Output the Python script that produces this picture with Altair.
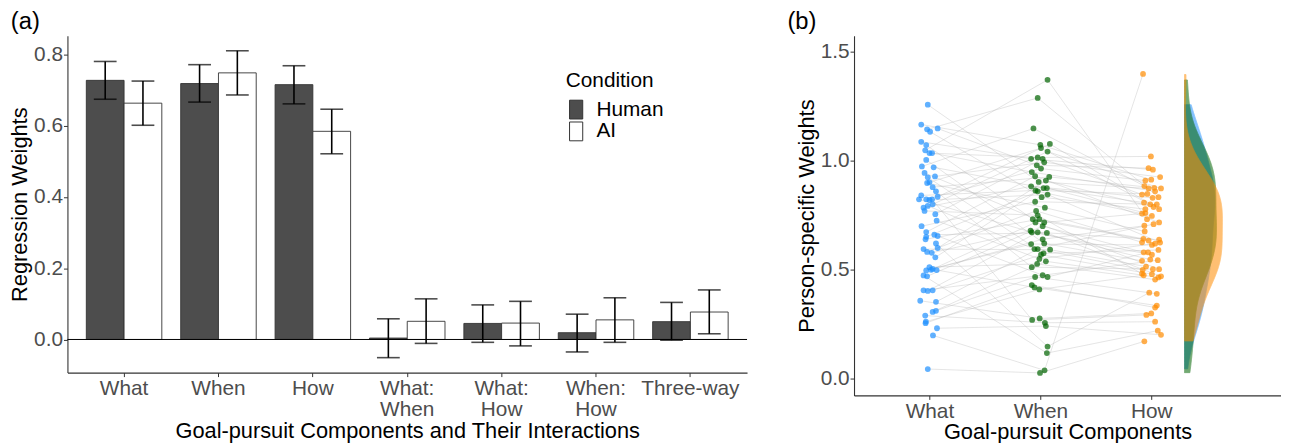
import altair as alt
import pandas as pd

# ---------------- Panel (a): regression weights ----------------
terms = ["What", "When", "How", "What: When", "What: How", "When: How", "Three-way"]
conditions = ["Human", "AI"]
human_mean = [0.727, 0.718, 0.715, 0.004, 0.045, 0.019, 0.050]
human_lo = [0.674, 0.666, 0.661, -0.051, -0.008, -0.035, -0.002]
human_hi = [0.780, 0.771, 0.768, 0.058, 0.097, 0.071, 0.104]
ai_mean = [0.663, 0.748, 0.584, 0.051, 0.046, 0.055, 0.077]
ai_lo = [0.601, 0.686, 0.521, -0.011, -0.018, -0.008, 0.016]
ai_hi = [0.725, 0.810, 0.646, 0.114, 0.107, 0.117, 0.139]

# ---------------- Panel (b): person-specific weights ----------------
components = ["What", "When", "How"]
comp_colors = ["#1E90FF", "#006400", "#FF8C00"]

what_vals = [1.257, 1.166, 1.148, 1.144, 1.133, 1.087, 1.072, 1.048, 1.035, 1.035,
             1.004, 0.974, 0.970, 0.944, 0.928, 0.924, 0.901, 0.898, 0.879, 0.860,
             0.841, 0.835, 0.823, 0.823, 0.823, 0.820, 0.800, 0.793, 0.785, 0.770,
             0.755, 0.725, 0.700, 0.673, 0.661, 0.655, 0.651, 0.640, 0.621, 0.600,
             0.595, 0.582, 0.578, 0.557, 0.512, 0.504, 0.500, 0.499, 0.497, 0.474,
             0.470, 0.406, 0.406, 0.403, 0.358, 0.353, 0.312, 0.307, 0.290, 0.262,
             0.255, 0.232, 0.199, 0.045]
what_jit = [-0.015, -0.074, 0.074, -0.021, 0.006, -0.074, -0.029, -0.038, 0.0, 0.024,
            -0.029, -0.068, 0.038, -0.044, 0.050, -0.015, 0.0, -0.021, 0.029, 0.059,
            -0.074, 0.074, -0.094, -0.029, 0.024, 0.0, 0.029, -0.015, -0.053, -0.044,
            0.053, 0.065, -0.071, -0.029, 0.044, 0.074, -0.029, -0.035, 0.059, 0.074,
            -0.053, -0.021, 0.021, 0.053, 0.0, 0.029, 0.015, 0.065, -0.029, -0.053,
            -0.021, 0.029, -0.053, -0.015, -0.083, 0.059, 0.059, 0.029, -0.038, -0.032,
            -0.035, 0.068, 0.032, -0.015]

when_vals = [1.371, 1.288, 1.148, 1.077, 1.073, 1.058, 1.042, 1.015, 1.009, 1.009,
             0.993, 0.979, 0.964, 0.948, 0.929, 0.926, 0.909, 0.903, 0.883, 0.875,
             0.875, 0.864, 0.860, 0.845, 0.833, 0.812, 0.785, 0.770, 0.750, 0.732,
             0.732, 0.717, 0.717, 0.700, 0.679, 0.672, 0.672, 0.669, 0.640, 0.621,
             0.618, 0.595, 0.595, 0.592, 0.575, 0.569, 0.550, 0.539, 0.527, 0.512,
             0.475, 0.467, 0.467, 0.430, 0.419, 0.410, 0.277, 0.270, 0.257, 0.242,
             0.148, 0.118, 0.039, 0.027]
when_jit = [0.065, -0.024, -0.062, 0.086, 0.0, 0.006, 0.065, -0.024, -0.083, 0.021,
            0.035, -0.032, 0.006, -0.077, -0.047, 0.080, 0.050, -0.015, -0.083, 0.029,
            0.059, -0.044, -0.024, 0.065, 0.012, -0.047, 0.041, -0.038, -0.024, -0.068,
            -0.009, -0.044, 0.035, 0.021, -0.088, -0.077, -0.024, 0.059, 0.021, 0.035,
            -0.083, -0.053, -0.024, 0.088, 0.029, 0.006, -0.009, 0.050, -0.029, -0.077,
            0.021, -0.047, 0.065, -0.077, -0.053, -0.009, -0.006, -0.074, 0.041, 0.050,
            0.065, 0.059, 0.038, -0.003]

how_vals = [1.398, 1.020, 0.966, 0.959, 0.925, 0.913, 0.909, 0.884, 0.876, 0.873,
            0.873, 0.860, 0.848, 0.845, 0.833, 0.830, 0.808, 0.800, 0.800, 0.788,
            0.778, 0.778, 0.760, 0.758, 0.747, 0.732, 0.717, 0.709, 0.702, 0.676,
            0.642, 0.638, 0.634, 0.626, 0.625, 0.620, 0.614, 0.591, 0.580, 0.580,
            0.569, 0.547, 0.544, 0.541, 0.515, 0.503, 0.503, 0.500, 0.482, 0.480,
            0.475, 0.470, 0.465, 0.455, 0.395, 0.390, 0.336, 0.327, 0.300, 0.293,
            0.262, 0.221, 0.202, 0.172]
how_jit = [-0.074, -0.003, -0.024, 0.015, 0.080, 0.0, -0.053, -0.062, 0.027, -0.024,
           0.088, 0.035, -0.035, -0.083, 0.065, 0.012, -0.065, 0.050, -0.009, 0.021,
           -0.053, 0.071, -0.053, -0.083, 0.006, -0.038, 0.071, 0.021, -0.062, -0.059,
           -0.071, 0.071, -0.024, -0.083, 0.080, 0.035, 0.006, 0.065, -0.068, -0.029,
           0.006, -0.009, 0.059, -0.083, -0.047, 0.015, 0.071, -0.077, -0.083, 0.006,
           -0.068, 0.088, 0.065, 0.035, -0.018, 0.050, 0.050, 0.035, 0.0, -0.044,
           0.035, 0.059, 0.088, -0.062]

# pairing of each person's What value (k-th) with a When and How value (1-based ranks)
when_rank = [18, 5, 12, 2, 25, 9, 30, 1, 8, 14, 40, 3, 20, 33, 11, 45, 6, 27, 16, 50,
             22, 4, 36, 13, 58, 24, 7, 42, 19, 29, 10, 47, 26, 15, 38, 53, 21, 31, 61, 17,
             44, 28, 35, 23, 49, 39, 32, 55, 41, 62, 34, 46, 51, 37, 57, 43, 52, 48, 59, 56,
             54, 60, 63, 64]
how_rank = [10, 6, 3, 15, 21, 4, 33, 26, 2, 12, 44, 8, 17, 24, 5, 38, 19, 30, 9, 46,
            13, 22, 41, 7, 60, 35, 11, 28, 16, 49, 14, 36, 18, 27, 52, 40, 23, 31, 55, 20,
            45, 34, 42, 25, 54, 29, 47, 57, 37, 62, 39, 50, 43, 32, 59, 48, 56, 53, 61, 51,
            58, 63, 1, 64]

FONT = "Liberation Sans"
LBL = 21
TTL = 22

# ---------- build panel (a) ----------
rows_a = []
for i, t in enumerate(terms):
    rows_a.append({"term": t, "condition": "Human", "mean": human_mean[i],
                   "lo": human_lo[i], "hi": human_hi[i]})
    rows_a.append({"term": t, "condition": "AI", "mean": ai_mean[i],
                   "lo": ai_lo[i], "hi": ai_hi[i]})
df_a = pd.DataFrame(rows_a)

yscale_a = alt.Scale(domain=[-0.093, 0.852], nice=False, zero=False)
ytitle_a = "Regression Weights"
x_a = alt.X("term:N", sort=terms,
            scale=alt.Scale(paddingInner=0.2, paddingOuter=0.2),
            axis=alt.Axis(title="Goal-pursuit Components and Their Interactions",
                          labelAngle=0, labelExpr="split(datum.label, ' ')",
                          labelLineHeight=21.5, labelBaseline="top"))
xoff_a = alt.XOffset("condition:N", sort=conditions,
                     scale=alt.Scale(paddingInner=0, paddingOuter=0))

base_a = alt.Chart(df_a).encode(x=x_a, xOffset=xoff_a)

bars = base_a.mark_bar(stroke="#333333", strokeWidth=0.9).encode(
    y=alt.Y("mean:Q", scale=yscale_a, title=ytitle_a,
            axis=alt.Axis(values=[0, 0.2, 0.4, 0.6, 0.8], format=".1f")),
    y2=alt.datum(0),
    fill=alt.Fill("condition:N", sort=conditions,
                  scale=alt.Scale(domain=conditions, range=["#4D4D4D", "#FFFFFF"]),
                  legend=alt.Legend(title="Condition", orient="none", legendX=503,
                                    legendY=35, symbolType="M-0.7,-1H0.7V1H-0.7Z",
                                    symbolSize=361, symbolStrokeColor="#333333",
                                    symbolStrokeWidth=1, rowPadding=-3,
                                    labelFontSize=LBL, titleFontSize=TTL - 1,
                                    titleFontWeight="normal", titleColor="black",
                                    labelColor="black", titlePadding=8,
                                    labelOffset=10)),
)
zero_rule = alt.Chart(pd.DataFrame({"zero": [0.0]})).mark_rule(
    color="black", strokeWidth=1).encode(y=alt.Y("zero:Q", scale=yscale_a, title=ytitle_a))
err = base_a.mark_rule(color="black", strokeWidth=1.6).encode(
    y=alt.Y("lo:Q", scale=yscale_a, title=ytitle_a), y2="hi:Q")
cap_hi = base_a.mark_tick(color="black", thickness=1.6, size=23, orient="horizontal").encode(
    y=alt.Y("hi:Q", scale=yscale_a, title=ytitle_a))
cap_lo = base_a.mark_tick(color="black", thickness=1.6, size=23, orient="horizontal").encode(
    y=alt.Y("lo:Q", scale=yscale_a, title=ytitle_a))

panel_a = alt.layer(bars, zero_rule, err, cap_hi, cap_lo).properties(
    width=686, height=340,
    title=alt.TitleParams("(a)", anchor="start", frame="bounds", fontSize=24,
                          fontWeight="normal", color="black", offset=1.5, dx=2),
)

# ---------- build panel (b) ----------
rows_b = []
for k in range(len(what_vals)):
    wi = when_rank[k] - 1
    hi = how_rank[k] - 1
    rows_b.append({"person": k, "component": "What", "pos": 1 + what_jit[k],
                   "value": what_vals[k]})
    rows_b.append({"person": k, "component": "When", "pos": 2 + when_jit[wi],
                   "value": when_vals[wi]})
    rows_b.append({"person": k, "component": "How", "pos": 3 + how_jit[hi],
                   "value": how_vals[hi]})
df_b = pd.DataFrame(rows_b)

label_expr_b = "[" + ",".join("'%s'" % c for c in components) + "][datum.value - 1]"
xscale_b = alt.Scale(domain=[0.32, 4.17], nice=False, zero=False)
yscale_b = alt.Scale(domain=[-0.076, 1.573], nice=False, zero=False)
xax_b = alt.Axis(values=[1, 2, 3], labelExpr=label_expr_b, title="Goal-pursuit Components",
                 labelBaseline="top")
yax_b = alt.Axis(values=[0, 0.5, 1.0, 1.5], format=".1f", title="Person-specific Weights")
color_b = alt.Color("component:N", scale=alt.Scale(domain=components, range=comp_colors),
                    legend=None)

lines = alt.Chart(df_b).mark_line(color="#b5b5b5", strokeWidth=0.8, opacity=0.45).encode(
    x=alt.X("pos:Q", scale=xscale_b, axis=xax_b),
    y=alt.Y("value:Q", scale=yscale_b, axis=yax_b),
    detail="person:N",
    order="pos:Q",
)
points = alt.Chart(df_b).mark_circle(size=34, opacity=0.7).encode(
    x=alt.X("pos:Q", scale=xscale_b, axis=xax_b),
    y=alt.Y("value:Q", scale=yscale_b, axis=yax_b),
    color=color_b,
)

dens_layers = []
for c, col in zip(components, comp_colors):
    d = (
        alt.Chart(df_b)
        .transform_filter(alt.datum.component == c)
        .transform_joinaggregate(vmin="min(value)", vmax="max(value)")
        .transform_density("value", groupby=["vmin", "vmax"], extent=[0.0, 1.42],
                           steps=400, bandwidth=0.11, as_=["v", "density"])
        .transform_filter("datum.v >= datum.vmin && datum.v <= datum.vmax")
        .transform_calculate(xd="3.3 + datum.density * 0.23", base="3.3")
        .mark_area(orient="horizontal", color=col, opacity=0.55, stroke=col,
                   strokeWidth=1, strokeOpacity=0.9)
        .encode(
            y=alt.Y("v:Q", scale=yscale_b, axis=yax_b),
            x=alt.X("xd:Q", scale=xscale_b, axis=xax_b),
            x2="base:Q",
        )
    )
    dens_layers.append(d)

panel_b = alt.layer(lines, points, *dens_layers).properties(
    width=431, height=363,
    title=alt.TitleParams("(b)", anchor="start", frame="bounds", fontSize=24,
                          fontWeight="normal", color="black", offset=1.5, dx=-8),
)

chart = (
    alt.hconcat(panel_a, panel_b, spacing=39)
    .properties(padding={"left": 0, "top": 0, "right": 0, "bottom": 0})
    .configure(font=FONT)
    .configure_view(stroke=None)
    .configure_axis(grid=False, domainColor="#333333", domainWidth=1.1,
                    tickColor="#333333", tickSize=4, tickWidth=1,
                    labelColor="#4D4D4D", labelFontSize=LBL, labelPadding=1,
                    titleColor="black", titleFontSize=TTL, titleFontWeight="normal",
                    titlePadding=1)
    .configure_axisY(titlePadding=2)
)

chart.save("out.html", embed_options={"renderer": "svg", "actions": False})
